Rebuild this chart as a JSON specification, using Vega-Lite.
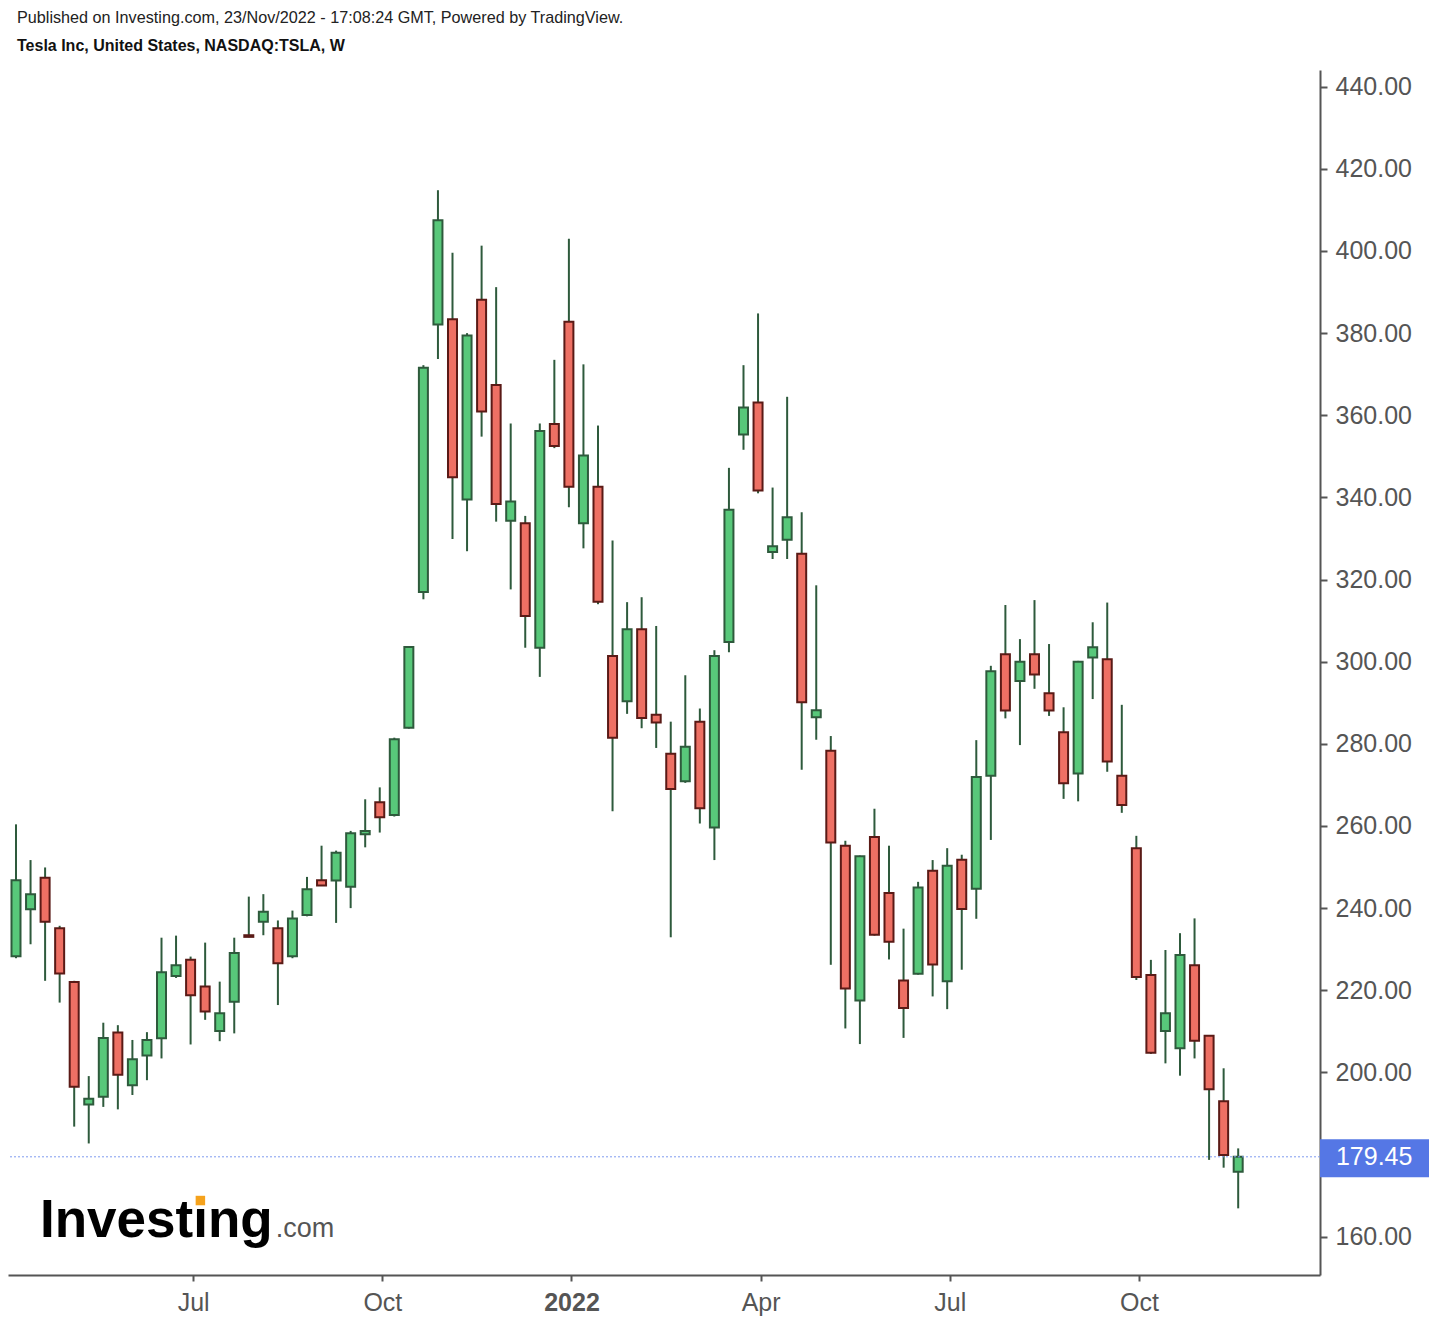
{
  "$schema": "https://vega.github.io/schema/vega-lite/v6.json",
  "width": 1312,
  "height": 1205,
  "autosize": {"type": "none"},
  "padding": {"left": 8, "top": 70, "right": 109, "bottom": 45},
  "background": "white",
  "config": {"view": {"stroke": null}, "font": "Liberation Sans"},
  "title": {
    "text": "Published on Investing.com, 23/Nov/2022 - 17:08:24 GMT, Powered by TradingView.",
    "subtitle": "Tesla Inc, United States, NASDAQ:TSLA, W",
    "anchor": "start",
    "frame": "group",
    "font": "Liberation Sans",
    "fontSize": 16.2,
    "fontWeight": "normal",
    "color": "#222222",
    "subtitleFont": "Liberation Sans",
    "subtitleFontSize": 16,
    "subtitleFontWeight": "bold",
    "subtitleColor": "#111111",
    "subtitlePadding": 12,
    "offset": 16,
    "dx": 9
  },
  "data": {
    "values": [
      {"date": "2021-04-12", "open": 228.3, "high": 260.4, "low": 227.8, "close": 246.8},
      {"date": "2021-04-19", "open": 239.7, "high": 251.7, "low": 231.2, "close": 243.4},
      {"date": "2021-04-26", "open": 247.4, "high": 249.9, "low": 222.3, "close": 236.7},
      {"date": "2021-05-03", "open": 235.1, "high": 235.7, "low": 217.0, "close": 224.1},
      {"date": "2021-05-10", "open": 222.0, "high": 222.3, "low": 186.8, "close": 196.5},
      {"date": "2021-05-17", "open": 192.2, "high": 199.1, "low": 182.7, "close": 193.6},
      {"date": "2021-05-24", "open": 194.1, "high": 212.1, "low": 191.6, "close": 208.4},
      {"date": "2021-05-31", "open": 209.7, "high": 211.5, "low": 191.0, "close": 199.4},
      {"date": "2021-06-07", "open": 196.9, "high": 207.9, "low": 194.5, "close": 203.2},
      {"date": "2021-06-14", "open": 204.1, "high": 209.8, "low": 198.1, "close": 207.9},
      {"date": "2021-06-21", "open": 208.3, "high": 232.8, "low": 203.4, "close": 224.4},
      {"date": "2021-06-28", "open": 223.5, "high": 233.3, "low": 223.0, "close": 226.1},
      {"date": "2021-07-05", "open": 227.4, "high": 228.2, "low": 206.8, "close": 218.8},
      {"date": "2021-07-12", "open": 220.9, "high": 231.6, "low": 212.8, "close": 214.8},
      {"date": "2021-07-19", "open": 210.1, "high": 222.1, "low": 207.6, "close": 214.4},
      {"date": "2021-07-26", "open": 217.2, "high": 232.8, "low": 209.5, "close": 229.1},
      {"date": "2021-08-02", "open": 233.4, "high": 242.8, "low": 232.9, "close": 233.0},
      {"date": "2021-08-09", "open": 236.7, "high": 243.4, "low": 233.4, "close": 239.1},
      {"date": "2021-08-16", "open": 235.1, "high": 237.0, "low": 216.4, "close": 226.6},
      {"date": "2021-08-23", "open": 228.3, "high": 239.4, "low": 227.8, "close": 237.5},
      {"date": "2021-08-30", "open": 238.3, "high": 247.6, "low": 238.0, "close": 244.6},
      {"date": "2021-09-06", "open": 246.8, "high": 255.2, "low": 245.4, "close": 245.5},
      {"date": "2021-09-13", "open": 246.7, "high": 254.0, "low": 236.4, "close": 253.5},
      {"date": "2021-09-20", "open": 245.2, "high": 258.8, "low": 240.0, "close": 258.2},
      {"date": "2021-09-27", "open": 258.0, "high": 266.5, "low": 254.8, "close": 258.8},
      {"date": "2021-10-04", "open": 265.8, "high": 269.4, "low": 258.4, "close": 262.1},
      {"date": "2021-10-11", "open": 262.7, "high": 281.5, "low": 262.3, "close": 281.1},
      {"date": "2021-10-18", "open": 283.9, "high": 303.8, "low": 283.7, "close": 303.6},
      {"date": "2021-10-25", "open": 317.0, "high": 372.2, "low": 315.2, "close": 371.6},
      {"date": "2021-11-01", "open": 382.1, "high": 414.8, "low": 373.7, "close": 407.5},
      {"date": "2021-11-08", "open": 383.4, "high": 399.6, "low": 329.9, "close": 344.9},
      {"date": "2021-11-15", "open": 339.5, "high": 380.0, "low": 326.9, "close": 379.4},
      {"date": "2021-11-22", "open": 388.1, "high": 401.3, "low": 354.8, "close": 360.9},
      {"date": "2021-11-29", "open": 367.4, "high": 391.2, "low": 334.1, "close": 338.4},
      {"date": "2021-12-06", "open": 334.3, "high": 358.0, "low": 317.6, "close": 339.0},
      {"date": "2021-12-13", "open": 333.7, "high": 335.5, "low": 303.4, "close": 311.1},
      {"date": "2021-12-20", "open": 303.4, "high": 358.0, "low": 296.3, "close": 356.2},
      {"date": "2021-12-27", "open": 357.9, "high": 373.5, "low": 352.0, "close": 352.5},
      {"date": "2022-01-03", "open": 382.8, "high": 403.0, "low": 337.6, "close": 342.6},
      {"date": "2022-01-10", "open": 333.7, "high": 372.4, "low": 327.6, "close": 350.2},
      {"date": "2022-01-17", "open": 342.6, "high": 357.5, "low": 314.0, "close": 314.6},
      {"date": "2022-01-24", "open": 301.4, "high": 329.5, "low": 263.6, "close": 281.5},
      {"date": "2022-01-31", "open": 290.4, "high": 314.5, "low": 287.3, "close": 307.9},
      {"date": "2022-02-07", "open": 307.9, "high": 315.7, "low": 283.8, "close": 286.3},
      {"date": "2022-02-14", "open": 287.1, "high": 308.7, "low": 279.0, "close": 285.2},
      {"date": "2022-02-21", "open": 277.6, "high": 285.4, "low": 232.9, "close": 269.0},
      {"date": "2022-02-28", "open": 270.9, "high": 296.7, "low": 270.5, "close": 279.3},
      {"date": "2022-03-07", "open": 285.4, "high": 288.6, "low": 260.6, "close": 264.3},
      {"date": "2022-03-14", "open": 259.6, "high": 302.8, "low": 251.7, "close": 301.4},
      {"date": "2022-03-21", "open": 304.8, "high": 347.2, "low": 302.3, "close": 337.0},
      {"date": "2022-03-28", "open": 355.3, "high": 372.2, "low": 351.6, "close": 361.9},
      {"date": "2022-04-04", "open": 363.1, "high": 384.8, "low": 341.0, "close": 341.7},
      {"date": "2022-04-11", "open": 326.7, "high": 342.4, "low": 325.0, "close": 328.1},
      {"date": "2022-04-18", "open": 329.7, "high": 364.5, "low": 325.0, "close": 335.2},
      {"date": "2022-04-25", "open": 326.3, "high": 336.4, "low": 273.7, "close": 290.1},
      {"date": "2022-05-02", "open": 286.5, "high": 318.6, "low": 281.0, "close": 288.2},
      {"date": "2022-05-09", "open": 278.3, "high": 281.9, "low": 226.2, "close": 256.0},
      {"date": "2022-05-16", "open": 255.2, "high": 256.4, "low": 210.7, "close": 220.4},
      {"date": "2022-05-23", "open": 217.5, "high": 252.8, "low": 206.9, "close": 252.6},
      {"date": "2022-05-30", "open": 257.3, "high": 264.2, "low": 233.3, "close": 233.5},
      {"date": "2022-06-06", "open": 243.7, "high": 255.2, "low": 227.5, "close": 231.8},
      {"date": "2022-06-13", "open": 222.4, "high": 235.0, "low": 208.4, "close": 215.7},
      {"date": "2022-06-20", "open": 224.0, "high": 246.4, "low": 223.8, "close": 245.0},
      {"date": "2022-06-27", "open": 249.1, "high": 251.7, "low": 218.5, "close": 226.3},
      {"date": "2022-07-04", "open": 222.2, "high": 254.6, "low": 215.4, "close": 250.3},
      {"date": "2022-07-11", "open": 251.8, "high": 253.0, "low": 225.0, "close": 239.8},
      {"date": "2022-07-18", "open": 244.7, "high": 280.9, "low": 237.4, "close": 271.9},
      {"date": "2022-07-25", "open": 272.2, "high": 299.0, "low": 256.6, "close": 297.7},
      {"date": "2022-08-01", "open": 301.8, "high": 313.8, "low": 286.2, "close": 288.1},
      {"date": "2022-08-08", "open": 295.3, "high": 305.5, "low": 279.7, "close": 300.0},
      {"date": "2022-08-15", "open": 301.8, "high": 315.0, "low": 293.4, "close": 296.9},
      {"date": "2022-08-22", "open": 292.3, "high": 304.3, "low": 286.8, "close": 288.1},
      {"date": "2022-08-29", "open": 282.8, "high": 288.9, "low": 266.6, "close": 270.4},
      {"date": "2022-09-05", "open": 272.8, "high": 300.2, "low": 266.0, "close": 300.0},
      {"date": "2022-09-12", "open": 301.0, "high": 309.6, "low": 290.9, "close": 303.5},
      {"date": "2022-09-19", "open": 300.6, "high": 314.4, "low": 273.2, "close": 275.7},
      {"date": "2022-09-26", "open": 272.2, "high": 289.5, "low": 263.2, "close": 265.1},
      {"date": "2022-10-03", "open": 254.6, "high": 257.6, "low": 222.5, "close": 223.2},
      {"date": "2022-10-10", "open": 223.7, "high": 227.4, "low": 204.5, "close": 204.8},
      {"date": "2022-10-17", "open": 210.1, "high": 229.8, "low": 202.2, "close": 214.4},
      {"date": "2022-10-24", "open": 205.9, "high": 233.9, "low": 199.2, "close": 228.6},
      {"date": "2022-10-31", "open": 226.1, "high": 237.5, "low": 203.4, "close": 207.7},
      {"date": "2022-11-07", "open": 208.9, "high": 209.1, "low": 178.7, "close": 195.9},
      {"date": "2022-11-14", "open": 193.0, "high": 201.0, "low": 176.8, "close": 179.9},
      {"date": "2022-11-21", "open": 175.8, "high": 181.5, "low": 166.9, "close": 179.45}
    ]
  },
  "layer": [
    {
      "mark": {"type": "rule", "color": "#2e5a3c", "strokeWidth": 2},
      "encoding": {
        "x": {
          "field": "date",
          "type": "temporal",
          "scale": {
            "type": "utc",
            "nice": false,
            "padding": 0,
            "domain": [
              {"year": 2021, "month": 4, "date": 8, "hours": 3, "minutes": 36, "utc": true},
              {"year": 2022, "month": 12, "date": 30, "hours": 8, "minutes": 38, "utc": true}
            ]
          },
          "axis": {
            "orient": "bottom",
            "title": null,
            "grid": false,
            "values": [
              {"year": 2021, "month": 7, "date": 6, "hours": 6, "utc": true},
              {"year": 2021, "month": 10, "date": 5, "hours": 6, "utc": true},
              {"year": 2022, "month": 1, "date": 4, "hours": 6, "utc": true},
              {"year": 2022, "month": 4, "date": 5, "hours": 6, "utc": true},
              {"year": 2022, "month": 7, "date": 5, "hours": 6, "utc": true},
              {"year": 2022, "month": 10, "date": 4, "hours": 6, "utc": true}
            ],
            "labelExpr": "utcmonth(datum.value) == 0 ? utcFormat(datum.value, '%Y') : utcFormat(datum.value, '%b')",
            "labelFontWeight": {"condition": {"test": "utcmonth(datum.value) == 0", "value": "bold"}, "value": "normal"},
            "labelFont": "Liberation Sans",
            "labelFontSize": 25,
            "labelColor": "#555555",
            "labelPadding": 9,
            "tickSize": 6,
            "tickWidth": 2,
            "tickColor": "#555555",
            "domainColor": "#555555",
            "domainWidth": 2
          }
        },
        "y": {
          "field": "low",
          "type": "quantitative",
          "scale": {"domain": [150.67, 444.07], "nice": false, "zero": false},
          "axis": {
            "orient": "right",
            "title": null,
            "grid": false,
            "values": [160, 200, 220, 240, 260, 280, 300, 320, 340, 360, 380, 400, 420, 440],
            "format": ".2f",
            "labelFont": "Liberation Sans",
            "labelFontSize": 25,
            "labelColor": "#555555",
            "labelPadding": 8,
            "tickSize": 7,
            "tickWidth": 2,
            "tickColor": "#555555",
            "domainColor": "#555555",
            "domainWidth": 2
          }
        },
        "y2": {"field": "high"}
      }
    },
    {
      "mark": {"type": "bar", "width": 9, "strokeWidth": 2},
      "encoding": {
        "x": {"field": "date", "type": "temporal"},
        "y": {"field": "open", "type": "quantitative"},
        "y2": {"field": "close"},
        "fill": {"condition": {"test": "datum.close >= datum.open", "value": "#58c87a"}, "value": "#ee7064"},
        "stroke": {"condition": {"test": "datum.close >= datum.open", "value": "#2e5a3c"}, "value": "#5a1a16"}
      }
    },
    {
      "data": {"values": [{}]},
      "mark": {"type": "rule", "color": "#7f9cf0", "strokeWidth": 1, "strokeDash": [2, 2]},
      "encoding": {"y": {"datum": 179.45, "type": "quantitative"}}
    },
    {
      "data": {"values": [{}]},
      "mark": {"type": "rect", "color": "#5577e5", "clip": false},
      "encoding": {
        "x": {"datum": {"year": 2022, "month": 12, "date": 30, "hours": 8, "minutes": 38, "utc": true}, "type": "temporal"},
        "x2": {"datum": {"year": 2023, "month": 3, "date": 1, "utc": true}},
        "y": {"datum": 183.7, "type": "quantitative"},
        "y2": {"datum": 174.5}
      }
    },
    {
      "data": {"values": [{}]},
      "mark": {"type": "text", "text": "179.45", "color": "white", "font": "Liberation Sans", "fontSize": 25, "align": "left", "baseline": "middle", "clip": false},
      "encoding": {
        "x": {"datum": {"year": 2023, "month": 1, "date": 7, "hours": 1, "utc": true}, "type": "temporal"},
        "y": {"datum": 179.45, "type": "quantitative"}
      }
    },
    {
      "data": {"values": [{}]},
      "mark": {"type": "text", "text": "Investing", "color": "#000000", "font": "Liberation Sans", "fontWeight": "bold", "fontSize": 53, "align": "left", "baseline": "alphabetic"},
      "encoding": {
        "x": {"datum": {"year": 2021, "month": 4, "date": 23, "hours": 13, "utc": true}, "type": "temporal"},
        "y": {"datum": 160, "type": "quantitative"}
      }
    },
    {
      "data": {"values": [{}]},
      "mark": {"type": "point", "shape": "square", "filled": true, "color": "#f5a21c", "size": 90, "opacity": 1},
      "encoding": {
        "x": {"datum": {"year": 2021, "month": 7, "date": 9, "hours": 17, "utc": true}, "type": "temporal"},
        "y": {"datum": 168.8, "type": "quantitative"}
      }
    },
    {
      "data": {"values": [{}]},
      "mark": {"type": "text", "text": ".com", "color": "#555555", "font": "Liberation Sans", "fontSize": 27, "align": "left", "baseline": "alphabetic"},
      "encoding": {
        "x": {"datum": {"year": 2021, "month": 8, "date": 14, "hours": 22, "utc": true}, "type": "temporal"},
        "y": {"datum": 160, "type": "quantitative"}
      }
    }
  ]
}
